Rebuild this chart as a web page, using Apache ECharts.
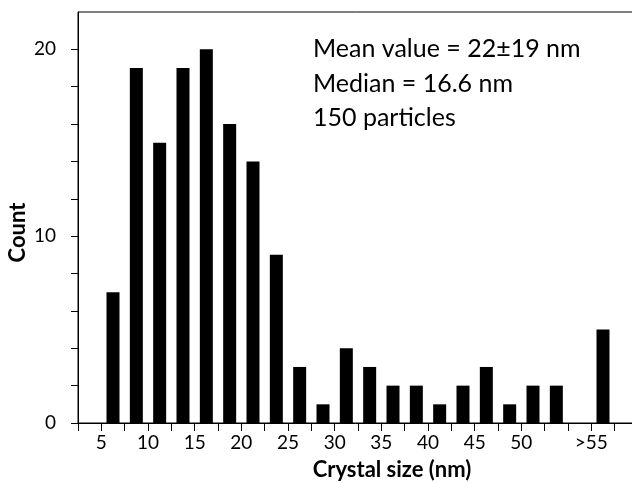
<!DOCTYPE html>
<html>
<head>
<meta charset="utf-8">
<script src="https://cdn.jsdelivr.net/npm/echarts@6/dist/echarts.min.js"></script>
<style>
html,body{margin:0;padding:0;background:#fff;}
#main{width:632px;height:483px;}
</style>
</head>
<body>
<div id="main"></div>
<script>
// bin lower edges (nm), 2.5 nm wide bins; last bin is ">55"
var binStart = [5, 7.5, 10, 12.5, 15, 17.5, 20, 22.5, 25, 27.5, 30, 32.5, 35, 37.5, 40, 42.5, 45, 47.5, 50, 52.5, 55, 57.5];
var counts = [7, 19, 15, 19, 20, 16, 14, 9, 3, 1, 4, 3, 2, 2, 1, 2, 3, 1, 2, 2, 0, 5];
var binWidth = 2.5;

// x tick labels and where they sit
var xLabelAt = [5, 10, 15, 20, 25, 30, 35, 40, 45, 50, 57.5];
var xLabels = ["5", "10", "15", "20", "25", "30", "35", "40", "45", "50", ">55"];
var xTickAt = [2.5, 5, 7.5, 10, 12.5, 15, 17.5, 20, 22.5, 25, 27.5, 30, 32.5, 35, 37.5, 40, 42.5, 45, 47.5, 50, 52.5, 55, 57.5, 60];

var yTickAt = [0, 2, 4, 6, 8, 10, 12, 14, 16, 18, 20];
var yLabelAt = [0, 10, 20];

var noteLines = ["Mean value = 22\u00b119 nm", "Median = 16.6 nm", "150 particles"];

var barData = binStart.map(function (s, i) {
    return [s + binWidth / 2, counts[i]];
});

var font = "Lato, 'Open Sans', sans-serif";

var option = {
    animation: false,
    title: {
        text: noteLines.join("\n"),
        left: 308,
        top: 27,
        textStyle: {
            fontFamily: font,
            fontSize: 25,
            fontWeight: "normal",
            color: "#000",
            lineHeight: 34.5
        }
    },
    grid: {
        left: 78,
        top: 12,
        bottom: 60,
        right: -6,
        outerBoundsMode: "none",
        containLabel: false,
        show: true,
        borderColor: "#000",
        borderWidth: 1
    },
    xAxis: {
        type: "value",
        min: 2.5,
        max: 62.5,
        name: "Crystal size (nm)",
        nameLocation: "middle",
        nameGap: 36,
        nameTextStyle: {fontFamily: font, fontSize: 22, fontWeight: "bold", color: "#000", padding: [0, 0, 0, 68]},
        splitLine: {show: false},
        axisLine: {lineStyle: {color: "#000", width: 1}},
        axisTick: {
            customValues: xTickAt,
            length: 8,
            lineStyle: {color: "#000"}
        },
        axisLabel: {
            customValues: xLabelAt,
            margin: 10,
            fontFamily: font,
            fontSize: 19,
            color: "#000",
            formatter: function (v) {
                var i = xLabelAt.indexOf(v);
                return i >= 0 ? xLabels[i] : "";
            }
        }
    },
    yAxis: {
        type: "value",
        min: 0,
        max: 22,
        name: "Count",
        nameLocation: "middle",
        nameGap: 49,
        nameMoveOverlap: false,
        nameTextStyle: {fontFamily: font, fontSize: 22, fontWeight: "bold", color: "#000", padding: [0, 30, 0, 0]},
        splitLine: {show: false},
        axisLine: {show: true, lineStyle: {color: "#000", width: 1}},
        axisTick: {
            show: true,
            customValues: yTickAt,
            length: 7,
            lineStyle: {color: "#000"}
        },
        axisLabel: {
            customValues: yLabelAt,
            margin: 22,
            fontFamily: font,
            fontSize: 19,
            color: "#000"
        }
    },
    series: [{
        type: "bar",
        data: barData,
        barWidth: 13,
        itemStyle: {color: "#000"}
    }]
};

var chart = echarts.init(document.getElementById("main"));
chart.setOption(option);
</script>
</body>
</html>
